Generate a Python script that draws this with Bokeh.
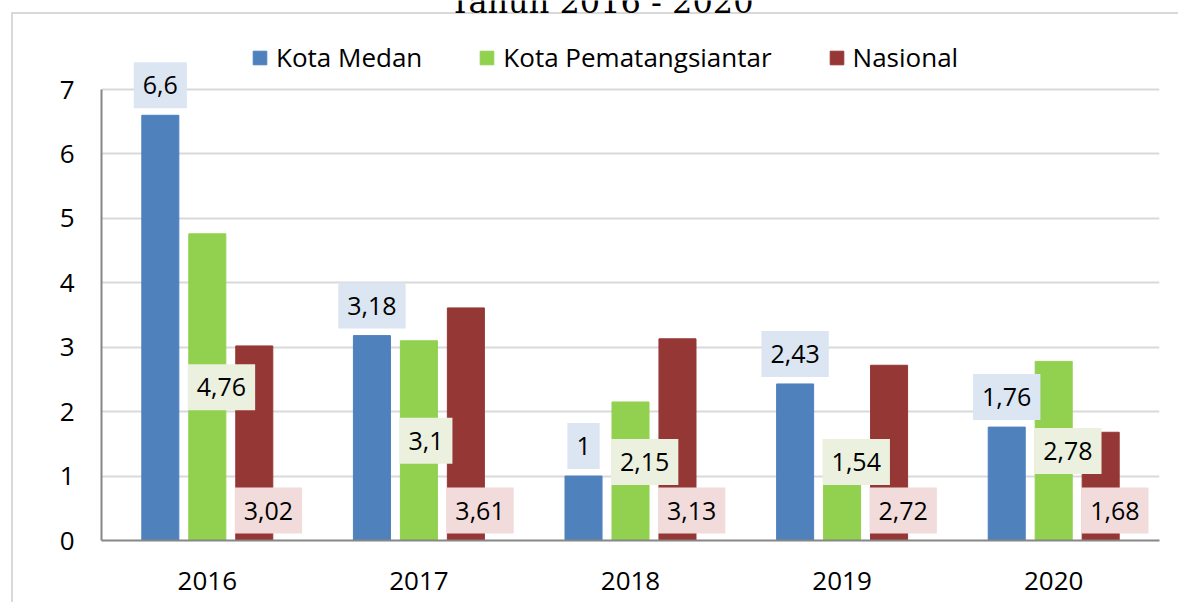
from bokeh.plotting import figure
from bokeh.models import (Range1d, FactorRange, ColumnDataSource, Legend, LegendItem,
                          Label, FixedTicker)
from bokeh.transform import dodge
from bokeh.core.properties import value
from bokeh.embed import file_html
from bokeh.resources import INLINE

# ---- data ----
years = ["2016", "2017", "2018", "2019", "2020"]
medan = [6.6, 3.18, 1.0, 2.43, 1.76]
siantar = [4.76, 3.1, 2.15, 1.54, 2.78]
nasional = [3.02, 3.61, 3.13, 2.72, 1.68]
series_names = ["Kota Medan", "Kota Pematangsiantar", "Nasional"]
y_ticks = [0, 1, 2, 3, 4, 5, 6, 7]
title_text = "Tahun 2016 - 2020"

# ---- style ----
C_BLUE, C_GREEN, C_RED = "#4F81BD", "#92D050", "#953735"
L_BLUE, L_GREEN, L_RED = "#DCE6F2", "#EBF1DE", "#F2DCDB"
FONT = "Open Sans"
BAR_W = 0.175
OFF = 0.222
AXIS_PX = 451            # pixel height of the 0..7 axis
PX_PER_UNIT = AXIS_PX / 7.0
FRAME_H = 540            # frame reaches to the top of the canvas
Y_END = FRAME_H / PX_PER_UNIT


def fmt(v):
    return ("%g" % v).replace(".", ",")


# green labels are centred in the bar, but pushed up above the red base labels
green_label_y = [max(v / 2.0, 1.22) for v in siantar]

src = ColumnDataSource(dict(
    years=years, medan=medan, siantar=siantar, nasional=nasional,
    medan_lbl=[fmt(v) for v in medan],
    siantar_lbl=[fmt(v) for v in siantar],
    nasional_lbl=[fmt(v) for v in nasional],
    green_y=green_label_y,
    zero=[0] * len(years),
))

p = figure(x_range=FactorRange(factors=years), y_range=Range1d(0, Y_END),
           frame_width=1058, frame_height=FRAME_H,
           min_border_left=101, min_border_right=19,
           min_border_top=0, min_border_bottom=62,
           output_backend="svg", toolbar_location=None)

p.border_fill_alpha = 0
p.background_fill_alpha = 0
p.outline_line_color = None
p.styles = {
    "background": ("linear-gradient(#D9D9D9,#D9D9D9) 11px 12px / 3000px 2px no-repeat, "
                   "linear-gradient(#D9D9D9,#D9D9D9) 11px 12px / 2px 3000px no-repeat"),
}

r1 = p.vbar(x=dodge("years", -OFF, range=p.x_range), top="medan", width=BAR_W,
            source=src, fill_color=C_BLUE, line_color=C_BLUE)
r2 = p.vbar(x=dodge("years", 0.0, range=p.x_range), top="siantar", width=BAR_W,
            source=src, fill_color=C_GREEN, line_color=C_GREEN)
r3 = p.vbar(x=dodge("years", OFF, range=p.x_range), top="nasional", width=BAR_W,
            source=src, fill_color=C_RED, line_color=C_RED)

PAD_X, PAD_Y = 9, 14
common = dict(source=src, text_font=value(FONT), text_font_size="25px",
              text_color="black", padding=(PAD_X, PAD_Y))

# Kota Medan labels: above bar end
p.text(x=dodge("years", -OFF, range=p.x_range), y="medan", text="medan_lbl",
       text_align="center", text_baseline="middle", y_offset=-30,
       background_fill_color=L_BLUE, **common)
# Pematangsiantar labels: centre
p.text(x=dodge("years", -BAR_W / 2, range=p.x_range), y="green_y", text="siantar_lbl",
       text_align="left", text_baseline="middle", x_offset=-1,
       background_fill_color=L_GREEN, **common)
# Nasional labels: inside base
p.text(x=dodge("years", OFF - BAR_W / 2, range=p.x_range), y="zero", text="nasional_lbl",
       text_align="left", text_baseline="middle", x_offset=-1, y_offset=-30,
       background_fill_color=L_RED, **common)

# axes
p.yaxis.ticker = FixedTicker(ticks=y_ticks)
p.yaxis.bounds = (y_ticks[0], y_ticks[-1])
for ax in (p.xaxis, p.yaxis):
    ax.axis_line_color = "#868686"
    ax.axis_line_width = 2
    ax.major_tick_out = 0
    ax.major_tick_in = 0
    ax.minor_tick_out = 0
    ax.minor_tick_in = 0
    ax.major_label_text_font = FONT
    ax.major_label_text_font_size = "26px"
    ax.major_label_text_color = "black"
p.yaxis.major_label_standoff = 27
p.xaxis.major_label_standoff = 31

p.xgrid.grid_line_color = None
p.ygrid.grid_line_color = "#D9D9D9"
p.ygrid.grid_line_width = 2

legend = Legend(items=[LegendItem(label=series_names[0], renderers=[r1]),
                       LegendItem(label=series_names[1], renderers=[r2]),
                       LegendItem(label=series_names[2], renderers=[r3])],
                orientation="horizontal", location=(150, 465),
                glyph_width=17, glyph_height=17, label_standoff=8, spacing=56,
                padding=0, margin=0, border_line_alpha=0, background_fill_alpha=0,
                label_text_font=FONT, label_text_font_size="26px",
                label_text_color="black", label_height=36)
p.add_layout(legend)

title = Label(x=500, y=539, x_units="screen", y_units="screen", text=title_text,
              text_align="center", text_baseline="alphabetic",
              text_font="DejaVu Serif", text_font_size="32px", text_color="black")
p.add_layout(title)

open("out.html", "w").write(file_html(p, INLINE))
